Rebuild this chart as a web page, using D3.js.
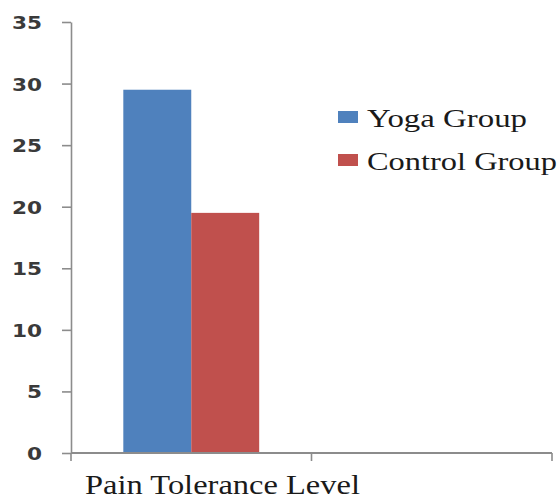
<!DOCTYPE html>
<html>
<head>
<meta charset="utf-8">
<script src="https://cdn.jsdelivr.net/npm/d3@7"></script>
<style>
  html, body { margin: 0; padding: 0; background: #fff; }
  svg { display: block; }
</style>
</head>
<body>
<svg id="chart" width="560" height="502"></svg>
<script>
// ---- data ----
const categories = ["Pain Tolerance Level", ""];
const seriesNames = ["Yoga Group", "Control Group"];
const seriesValues = [[29.5], [19.5]];
const seriesColors = ["#4F81BD", "#C0504D"];
const yTicks = [0, 5, 10, 15, 20, 25, 30, 35];

// ---- layout ----
const svg = d3.select("#chart");
const plotLeft = 71, plotRight = 552, plotTop = 22, plotBottom = 453;

const y = d3.scaleLinear().domain([0, 35]).range([plotBottom, plotTop]);
const x0 = d3.scaleBand().domain(categories).range([plotLeft, plotRight]).paddingInner(0).paddingOuter(0);
const x1 = d3.scaleBand().domain(seriesNames).range([0, x0.bandwidth()]).paddingInner(0).paddingOuter(0.77);

const axisColor = "#8c8c8c";

// bars
seriesNames.forEach((s, si) => {
  svg.append("g").selectAll("rect")
    .data(seriesValues[si].map((v, ci) => ({ v, c: categories[ci] })))
    .join("rect")
    .attr("x", d => x0(d.c) + x1(s))
    .attr("y", d => y(d.v))
    .attr("width", x1.bandwidth())
    .attr("height", d => y(0) - y(d.v))
    .attr("fill", seriesColors[si]);
});

// y axis
const yAxis = svg.append("g")
  .attr("transform", `translate(${plotLeft},0)`)
  .call(d3.axisLeft(y).tickValues(yTicks).tickSize(9).tickPadding(20).tickSizeOuter(0));
yAxis.select(".domain").attr("stroke", axisColor).attr("stroke-width", 1.6);
yAxis.selectAll(".tick line").attr("stroke", axisColor).attr("stroke-width", 1.6);
yAxis.selectAll(".tick text")
  .attr("fill", "#3a3a3a")
  .style("font-family", "'DejaVu Sans', sans-serif")
  .style("font-size", "18px")
  .style("font-weight", "bold")
  .attr("dy", "0.36em")
  .each(function() {
    const t = d3.select(this);
    const xPos = +t.attr("x");
    t.attr("x", 0).attr("transform", `translate(${xPos},0) scale(1.2,1)`);
  });

// x axis
const xGrid = [...categories.map(c => x0(c)), plotRight];
svg.append("line")
  .attr("x1", plotLeft).attr("x2", plotRight)
  .attr("y1", y(0)).attr("y2", y(0))
  .attr("stroke", axisColor).attr("stroke-width", 1.8);
svg.append("g").selectAll("line")
  .data(xGrid)
  .join("line")
  .attr("x1", d => d).attr("x2", d => d)
  .attr("y1", y(0)).attr("y2", y(0) + 8)
  .attr("stroke", axisColor).attr("stroke-width", 1.6);

// category label
svg.append("text")
  .attr("x", 85).attr("y", 494)
  .attr("textLength", 275).attr("lengthAdjust", "spacingAndGlyphs")
  .style("font-family", "'Liberation Serif', 'Times New Roman', serif")
  .style("font-size", "28px")
  .attr("fill", "#1a1a1a")
  .text(categories[0]);

// legend
const legendY = [117.5, 160.5];
seriesNames.forEach((s, i) => {
  svg.append("rect")
    .attr("x", 338).attr("y", legendY[i] - 6.5)
    .attr("width", 20).attr("height", 12)
    .attr("fill", seriesColors[i]);
  svg.append("text")
    .attr("x", 367).attr("y", legendY[i] + 9)
    .attr("textLength", i === 0 ? 160 : 190).attr("lengthAdjust", "spacingAndGlyphs")
    .style("font-family", "'Liberation Serif', 'Times New Roman', serif")
    .style("font-size", "26px")
    .attr("fill", "#1a1a1a")
    .text(s);
});
</script>
</body>
</html>
